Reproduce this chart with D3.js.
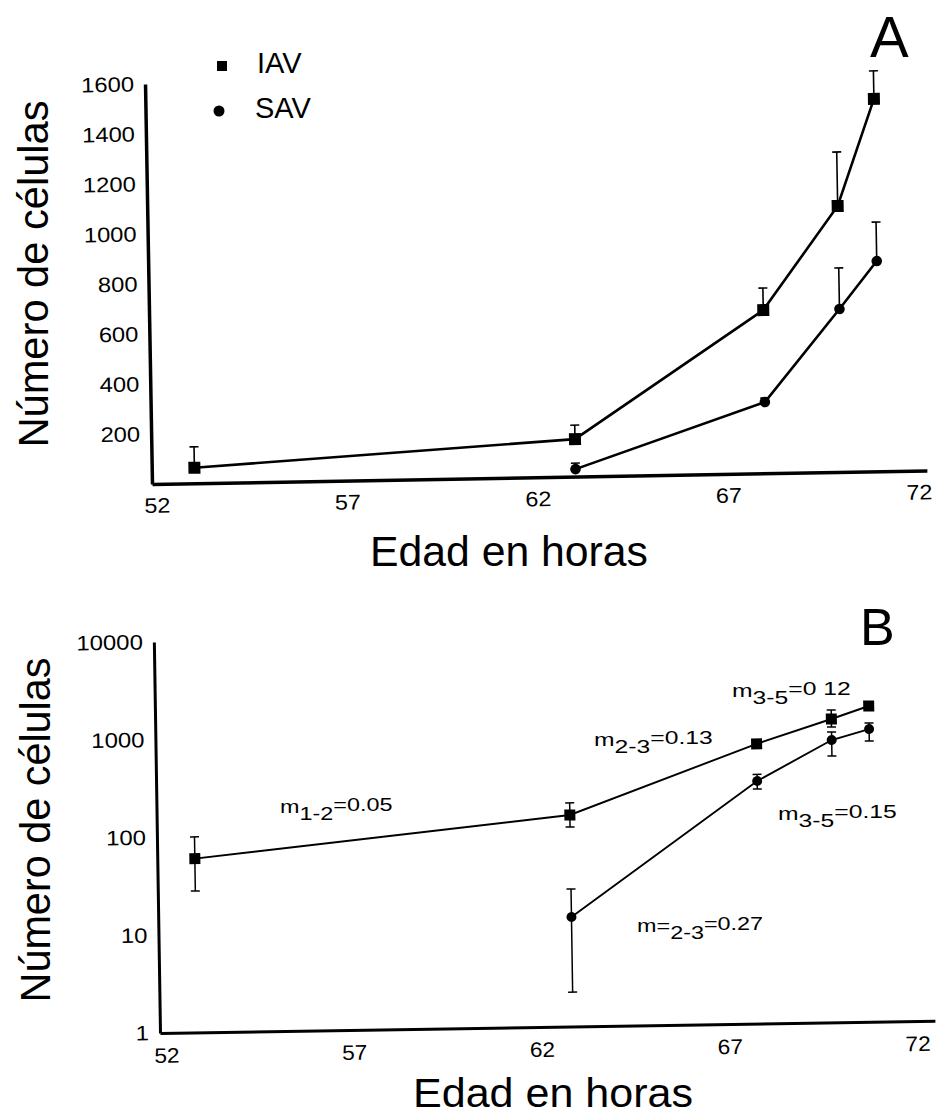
<!DOCTYPE html>
<html>
<head>
<meta charset="utf-8">
<script src="https://cdn.jsdelivr.net/npm/d3@7"></script>
<style>
  body { margin: 0; background: #fff; }
  text { font-family: "Liberation Sans", Arial, sans-serif; fill: #000; }
</style>
</head>
<body>
<div id="chart"></div>
<script>
// edad (horas) de cada punto
var hoursIAV = [53, 63, 68, 70, 71];
var hoursSAV = [63, 68, 70, 71];

// panel A, escala lineal (media y error hacia arriba)
var iavA = [62, 150, 653, 1064, 1490];
var iavAErr = [84, 56, 88, 216, 112];
var savA = [30, 285, 652, 841];
var savAErr = [24, 16, 164, 156];

// panel B, escala log (media, limite inferior y superior)
var iavB = [60, 146, 727, 1270, 1702];
var iavBLow = [28, 110, 727, 1052, 1702];
var iavBHigh = [100, 194, 727, 1570, 1702];
var savB = [13.2, 303, 774, 989];
var savBLow = [2.25, 251, 532, 746];
var savBHigh = [25.5, 354, 935, 1140];

var xTicks = [52, 57, 62, 67, 72];
var yTicksA = [200, 400, 600, 800, 1000, 1200, 1400, 1600];
var yTicksB = [1, 10, 100, 1000, 10000];

// pendientes escritas en el panel B: [m, subindice, resto]
var slopeText = [
  ["m", "1-2", "=0.05"],
  ["m", "2-3", "=0.13"],
  ["m", "3-5", "=0 12"],
  ["m", "3-5", "=0.15"],
  ["m=", "2-3", "=0.27"]
];
var slopePos = [[280, 813, 18], [594, 746, 19], [732, 697, 19], [778, 820, 19], [637, 932, 18]];

var W = 939, H = 1118;
var svg = d3.select("#chart").append("svg").attr("width", W).attr("height", H);

var axisLen = 775;
var fmt = d3.format("d");

function styleAxis(g, width, tickW) {
  g.attr("font-family", null).attr("font-size", null);
  g.select(".domain").attr("stroke", "#000").attr("stroke-width", width);
  g.selectAll(".tick text")
    .style("font-size", "21px")
    .attr("textLength", function(d) { return fmt(d).length * tickW; })
    .attr("lengthAdjust", "spacingAndGlyphs");
}

// ---------- Panel A ----------
var gA = svg.append("g").attr("transform", "translate(152,484) rotate(-1)");
var xA = d3.scaleLinear().domain([51.88, 72.22]).range([0, axisLen]);
var yA = d3.scaleLinear().domain([0, 1600]).range([0, -400]);

gA.append("g").call(d3.axisBottom(xA).tickValues(xTicks).tickFormat(fmt).tickSize(0).tickSizeOuter(0).tickPadding(14))
  .call(styleAxis, 3.5, 13);
gA.append("g").call(d3.axisLeft(yA).tickValues(yTicksA).tickFormat(fmt).tickSize(0).tickSizeOuter(0).tickPadding(11))
  .call(styleAxis, 3.5, 13.2);

var lineA = d3.line().x(function(d) { return xA(d[0]); }).y(function(d) { return yA(d[1]); });
var iavAPts = d3.zip(hoursIAV, iavA, iavAErr);
var savAPts = d3.zip(hoursSAV, savA, savAErr);

[iavAPts, savAPts].forEach(function(pts) {
  var eb = gA.append("g").attr("stroke", "#000").attr("stroke-width", 1.6);
  pts.forEach(function(p) {
    var x = xA(p[0]), y0 = yA(p[1]), y1 = yA(p[1] + p[2]);
    eb.append("line").attr("x1", x).attr("x2", x).attr("y1", y0).attr("y2", y1);
    eb.append("line").attr("x1", x - 4.5).attr("x2", x + 4.5).attr("y1", y1).attr("y2", y1);
  });
  gA.append("path").datum(pts).attr("d", lineA)
    .attr("fill", "none").attr("stroke", "#000").attr("stroke-width", 2.6);
});

gA.selectAll("rect.iav").data(iavAPts).enter().append("rect")
  .attr("x", function(d) { return xA(d[0]) - 6; })
  .attr("y", function(d) { return yA(d[1]) - 6; })
  .attr("width", 12).attr("height", 12).attr("fill", "#000");
gA.selectAll("circle.sav").data(savAPts).enter().append("circle")
  .attr("cx", function(d) { return xA(d[0]); })
  .attr("cy", function(d) { return yA(d[1]); })
  .attr("r", 5.3).attr("fill", "#000");

// leyenda
svg.append("rect").attr("x", 217).attr("y", 61).attr("width", 10).attr("height", 10).attr("fill", "#000");
svg.append("text").attr("x", 257).attr("y", 73).style("font-size", "29px").text("IAV");
svg.append("circle").attr("cx", 219).attr("cy", 111).attr("r", 5.5).attr("fill", "#000");
svg.append("text").attr("x", 255).attr("y", 118).style("font-size", "29px").text("SAV");

svg.append("text").attr("x", 870).attr("y", 57).style("font-size", "58px").text("A");

svg.append("text").attr("transform", "translate(48,274) rotate(-90)")
  .attr("text-anchor", "middle").style("font-size", "42px")
  .attr("textLength", 347).attr("lengthAdjust", "spacingAndGlyphs")
  .text("Número de células");
svg.append("text").attr("x", 370).attr("y", 566).style("font-size", "42px")
  .attr("textLength", 278).attr("lengthAdjust", "spacingAndGlyphs")
  .text("Edad en horas");

// ---------- Panel B ----------
var gB = svg.append("g").attr("transform", "translate(160,1033) rotate(-0.9)");
var xB = d3.scaleLinear().domain([52, 72.63]).range([0, axisLen]);
var yB = d3.scaleLog().domain([1, 10000]).range([0, -391]);

gB.append("g").call(d3.axisBottom(xB).tickValues(xTicks).tickFormat(fmt).tickSize(0).tickSizeOuter(0).tickPadding(15))
  .call(styleAxis, 3, 12.6)
  .selectAll(".tick text").attr("dx", 6);
gB.append("g").call(d3.axisLeft(yB).tickValues(yTicksB).tickFormat(fmt).tickSize(0).tickSizeOuter(0).tickPadding(11))
  .call(styleAxis, 3, 13.3);

var lineB = d3.line().x(function(d) { return xB(d[0]); }).y(function(d) { return yB(d[1]); });
var iavBPts = d3.zip(hoursIAV, iavB, iavBLow, iavBHigh);
var savBPts = d3.zip(hoursSAV, savB, savBLow, savBHigh);

[iavBPts, savBPts].forEach(function(pts) {
  var eb = gB.append("g").attr("stroke", "#000").attr("stroke-width", 1.5);
  pts.forEach(function(p) {
    if (p[2] === p[3]) return;
    var x = xB(p[0]), lo = yB(p[2]), hi = yB(p[3]);
    eb.append("line").attr("x1", x).attr("x2", x).attr("y1", lo).attr("y2", hi);
    eb.append("line").attr("x1", x - 4.5).attr("x2", x + 4.5).attr("y1", lo).attr("y2", lo);
    eb.append("line").attr("x1", x - 4.5).attr("x2", x + 4.5).attr("y1", hi).attr("y2", hi);
  });
  gB.append("path").datum(pts).attr("d", lineB)
    .attr("fill", "none").attr("stroke", "#000").attr("stroke-width", 1.9);
});

gB.selectAll("rect.iav").data(iavBPts).enter().append("rect")
  .attr("x", function(d) { return xB(d[0]) - 5.5; })
  .attr("y", function(d) { return yB(d[1]) - 5.5; })
  .attr("width", 11).attr("height", 11).attr("fill", "#000");
gB.selectAll("circle.sav").data(savBPts).enter().append("circle")
  .attr("cx", function(d) { return xB(d[0]); })
  .attr("cy", function(d) { return yB(d[1]); })
  .attr("r", 5).attr("fill", "#000");

// pendientes
slopeText.forEach(function(parts, i) {
  var p = slopePos[i];
  var t = svg.append("g").attr("transform", "translate(" + p[0] + "," + p[1] + ") scale(1.3,1)")
    .append("text").style("font-size", p[2] + "px");
  t.append("tspan").text(parts[0]);
  t.append("tspan").attr("dy", 7).text(parts[1]);
  t.append("tspan").attr("dy", -9).text(parts[2]);
});

svg.append("text").attr("x", 860).attr("y", 645).style("font-size", "52px").text("B");

svg.append("text").attr("transform", "translate(50,830) rotate(-90)")
  .attr("text-anchor", "middle").style("font-size", "42px")
  .attr("textLength", 345).attr("lengthAdjust", "spacingAndGlyphs")
  .text("Número de células");
svg.append("text").attr("x", 413).attr("y", 1107).style("font-size", "40px")
  .attr("textLength", 280).attr("lengthAdjust", "spacingAndGlyphs")
  .text("Edad en horas");
</script>
</body>
</html>
